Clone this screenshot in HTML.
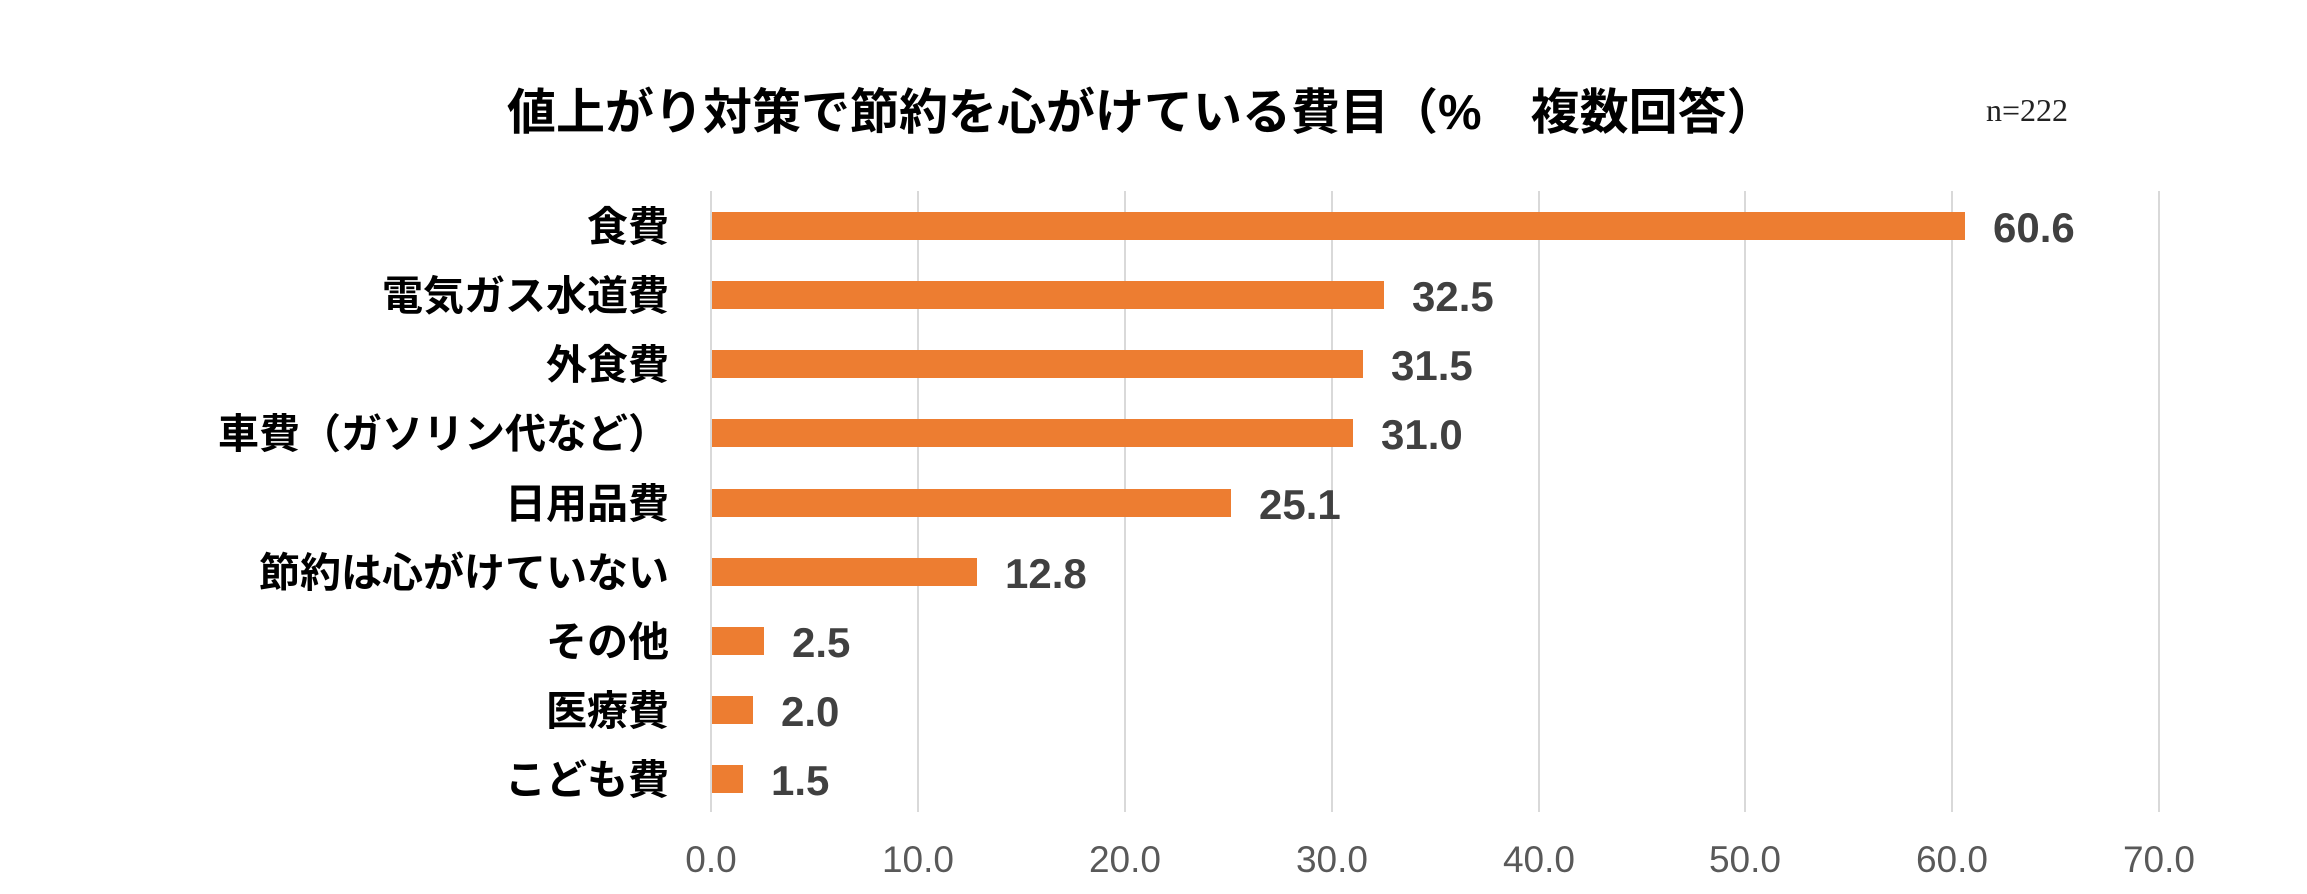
<!DOCTYPE html>
<html><head><meta charset="utf-8"><style>
html,body{margin:0;padding:0;background:#fff;}
body{width:2307px;height:894px;position:relative;overflow:hidden;font-family:"Liberation Sans","Noto Sans CJK JP",sans-serif;}
.t{position:absolute;white-space:nowrap;}
.grid{position:absolute;top:191px;height:621px;width:2px;background:#d9d9d9;}
.bar{position:absolute;left:712px;height:28px;background:#ed7d31;}
.cat{position:absolute;right:1638px;font-weight:bold;font-size:41px;color:#000;line-height:44px;white-space:nowrap;}
.val{position:absolute;font-weight:bold;font-size:42px;color:#404040;line-height:44px;}
.tick{position:absolute;top:838px;font-size:37px;color:#595959;width:140px;text-align:center;line-height:44px;}
</style></head><body>
<div class="t" style="left:507px;top:85px;font-size:49px;font-weight:bold;line-height:56px;">値上がり対策で節約を心がけている費目（%　複数回答）</div>
<div class="t" style="left:1986px;top:92px;font-size:32px;font-family:'Liberation Serif',serif;color:#222;">n=222</div>

<div class="grid" style="left:710px"></div>
<div class="grid" style="left:917px"></div>
<div class="grid" style="left:1124px"></div>
<div class="grid" style="left:1331px"></div>
<div class="grid" style="left:1538px"></div>
<div class="grid" style="left:1744px"></div>
<div class="grid" style="left:1951px"></div>
<div class="grid" style="left:2158px"></div>

<div class="bar" style="top:212px;width:1253px"></div>
<div class="bar" style="top:281px;width:672px"></div>
<div class="bar" style="top:350px;width:651px"></div>
<div class="bar" style="top:419px;width:641px"></div>
<div class="bar" style="top:489px;width:519px"></div>
<div class="bar" style="top:558px;width:265px"></div>
<div class="bar" style="top:627px;width:52px"></div>
<div class="bar" style="top:696px;width:41px"></div>
<div class="bar" style="top:765px;width:31px"></div>

<div class="cat" style="top:205px">食費</div>
<div class="cat" style="top:274px">電気ガス水道費</div>
<div class="cat" style="top:343px">外食費</div>
<div class="cat" style="top:412px">車費（ガソリン代など）</div>
<div class="cat" style="top:482px">日用品費</div>
<div class="cat" style="top:551px">節約は心がけていない</div>
<div class="cat" style="top:620px">その他</div>
<div class="cat" style="top:689px">医療費</div>
<div class="cat" style="top:758px">こども費</div>

<div class="val" style="top:206px;left:1993px">60.6</div>
<div class="val" style="top:275px;left:1412px">32.5</div>
<div class="val" style="top:344px;left:1391px">31.5</div>
<div class="val" style="top:413px;left:1381px">31.0</div>
<div class="val" style="top:483px;left:1259px">25.1</div>
<div class="val" style="top:552px;left:1005px">12.8</div>
<div class="val" style="top:621px;left:792px">2.5</div>
<div class="val" style="top:690px;left:781px">2.0</div>
<div class="val" style="top:759px;left:771px">1.5</div>

<div class="tick" style="left:641px">0.0</div>
<div class="tick" style="left:848px">10.0</div>
<div class="tick" style="left:1055px">20.0</div>
<div class="tick" style="left:1262px">30.0</div>
<div class="tick" style="left:1469px">40.0</div>
<div class="tick" style="left:1675px">50.0</div>
<div class="tick" style="left:1882px">60.0</div>
<div class="tick" style="left:2089px">70.0</div>
</body></html>
